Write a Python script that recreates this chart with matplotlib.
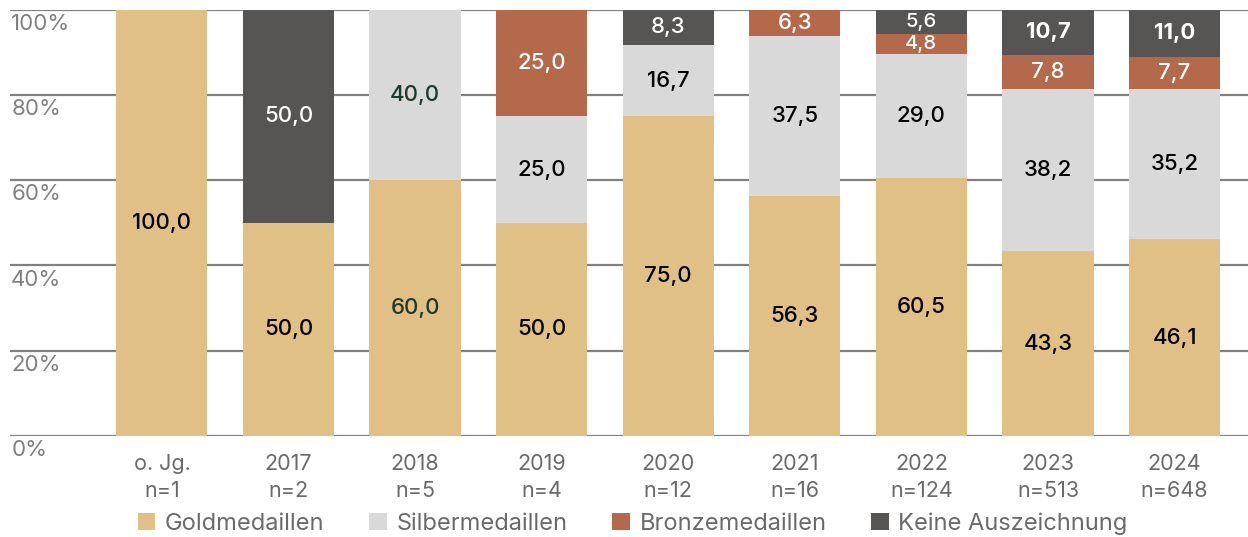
import numpy as np
import matplotlib.pyplot as plt

# Daten
jahre = ["o. Jg.", "2017", "2018", "2019", "2020", "2021", "2022", "2023", "2024"]
n_werte = ["n=1", "n=2", "n=5", "n=4", "n=12", "n=16", "n=124", "n=513", "n=648"]
gold = [100.0, 50.0, 60.0, 50.0, 75.0, 56.3, 60.5, 43.3, 46.1]
silber = [0, 0, 40.0, 25.0, 16.7, 37.5, 29.0, 38.2, 35.2]
bronze = [0, 0, 0, 25.0, 0, 6.3, 4.8, 7.8, 7.7]
keine = [0, 50.0, 0, 0, 8.3, 0, 5.6, 10.7, 11.0]

namen = ["Goldmedaillen", "Silbermedaillen", "Bronzemedaillen", "Keine Auszeichnung"]
farben = ["#E0C084", "#D9D9D9", "#B5694B", "#575553"]

plt.rcParams['font.family'] = ['Inter', 'DejaVu Sans']

fig = plt.figure(figsize=(12.48, 5.37), dpi=100)
ax = fig.add_axes([0.008, 0.188, 0.992, 0.794])

x = np.arange(len(jahre))
breite = 0.72
serien = [gold, silber, bronze, keine]
unten = np.zeros(len(jahre))

for werte, name, farbe in zip(serien, namen, farben):
    werte = np.array(werte)
    ax.bar(x, werte, breite, bottom=unten, color=farbe, label=name, zorder=3)
    for i, w in enumerate(werte):
        if w <= 0:
            continue
        # Textfarbe je nach Segment
        if farbe in ("#B5694B", "#575553"):
            tc = "white"
        elif jahre[i] == "2018":
            tc = "#1E3A2A"
        else:
            tc = "black"
        gewicht = "bold" if w > 10 and farbe == "#575553" and i >= 7 else "medium"
        gr = 14.5 if w < 6 else 16
        ax.text(i, unten[i] + w / 2, f"{w:.1f}".replace(".", ","),
                ha="center", va="center", color=tc, fontsize=gr,
                fontweight=gewicht, zorder=4)
    unten += werte

# Gitterlinien
for y in [0, 20, 40, 60, 80, 100]:
    ax.axhline(y, color="#808080", lw=1.6, zorder=1)
    ax.text(-1.19, y - 1.0, f"{y}%", ha="left", va="top",
            color="#808080", fontsize=16, fontweight="normal")

ax.set_xlim(-1.2, 8.58)
ax.set_ylim(0, 100)
ax.set_yticks([])
ax.set_xticks(x)
ax.set_xticklabels([f"{j}\n{n}" for j, n in zip(jahre, n_werte)],
                   color="#6a6a6a", fontsize=15.5, fontweight="normal",
                   linespacing=1.45)
ax.tick_params(axis="x", length=0, pad=13)
for s in ax.spines.values():
    s.set_visible(False)

fig.legend(loc="lower center", bbox_to_anchor=(0.507, -0.036), ncol=4,
           frameon=False, handlelength=0.75, handleheight=0.75,
           handletextpad=0.4, columnspacing=1.9, labelcolor="#6a6a6a",
           prop={'weight': 'normal', 'size': 17})

fig.savefig("out.png", dpi=100)
